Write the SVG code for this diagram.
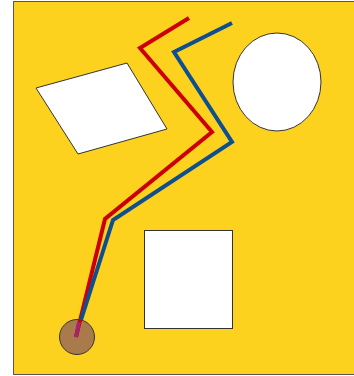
<svg xmlns="http://www.w3.org/2000/svg" width="354" height="376" viewBox="0 0 354 376">
<style>
.shape{fill:#fff;stroke:#333;stroke-width:1}
.line{fill:none;stroke-width:4;stroke-linejoin:miter}
</style>
<rect width="354" height="376" fill="#fff"/>
<rect id="ground" x="13.5" y="1.5" width="345" height="373" fill="#fdd21f" stroke="#555" stroke-width="1"/>
<g id="parallelogram"><polygon class="shape" points="36,88 127,63 167,129 78,154"/></g>
<g id="ellipse"><ellipse class="shape" cx="277" cy="82" rx="44" ry="49"/></g>
<g id="rectangle"><rect class="shape" x="144.5" y="230.5" width="88" height="98"/></g>
<g id="origin"><circle cx="77" cy="337" r="17.5" fill="#a97b4c" stroke="#333" stroke-width="1"/></g>
<g id="connectors">
<polyline class="line" stroke="#cc0000" points="189,18 140,48 212,132 105,219 76,337"/>
<polyline class="line" stroke="#0e4f8f" points="232,23 174,52 232,142 113,220 81,320"/>
<line x1="79" y1="322" x2="76" y2="337" stroke="#a0286a" stroke-width="4"/>
</g>
</svg>
